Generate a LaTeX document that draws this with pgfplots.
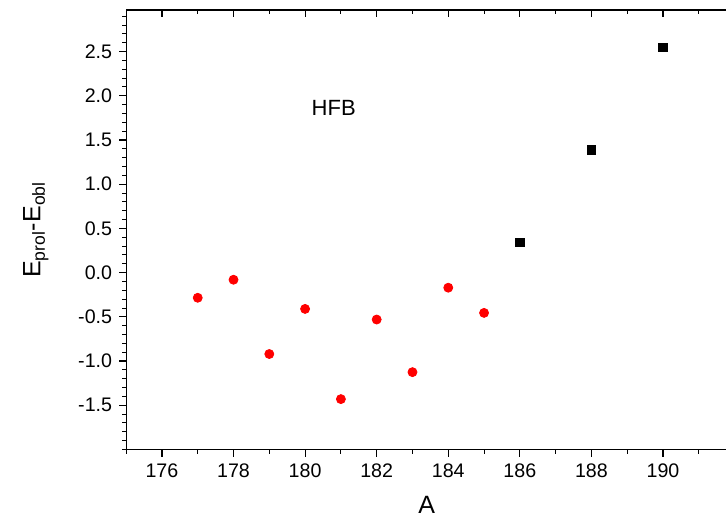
\documentclass[border=0pt]{standalone}
\usepackage{fontspec}
\setmainfont{Liberation Sans}
\usepackage{pgfplots}
\pgfplotsset{compat=1.18}
\begin{document}
\begin{tikzpicture}
\pgfplotsset{
  common/.style={
    scale only axis,
    width=300.3pt, height=219.5pt,
    xmin=175, xmax=191.8, ymin=-2.0, ymax=2.97,
    axis line style={line width=0.6pt},
    /pgf/number format/assume math mode=true,
    major tick length=3.5pt, minor tick length=2pt,
    every tick/.style={line width=0.6pt, black},
    every minor tick/.style={line width=0.5pt, black},
  }
}
\begin{axis}[common,
  tick align=outside,
  xtick pos=bottom, ytick pos=left,
  xtick={176,178,...,190},
  minor xtick={175,177,...,191},
  ytick={-1.5,-1.0,-0.5,0.0,0.5,1.0,1.5,2.0,2.5},
  minor ytick={-2.0,-1.9,-1.8,-1.7,-1.6,-1.4,-1.3,-1.2,-1.1,-0.9,-0.8,-0.7,-0.6,-0.4,-0.3,-0.2,-0.1,0.1,0.2,0.3,0.4,0.6,0.7,0.8,0.9,1.1,1.2,1.3,1.4,1.6,1.7,1.8,1.9,2.1,2.2,2.3,2.4,2.6,2.7,2.8,2.9},
  yticklabel style={/pgf/number format/.cd, fixed, fixed zerofill, precision=1},
  xticklabel style={/pgf/number format/.cd, 1000 sep={}},
  tick label style={font=\fontsize{9.8pt}{11pt}\selectfont},
  xlabel={A},
  ylabel={E\textsubscript{prol}-E\textsubscript{obl}},
  label style={font=\fontsize{12.5pt}{14pt}\selectfont},
  xlabel style={yshift=-2.3pt},
  ylabel style={yshift=8pt},
]
\addplot[only marks, mark=*, mark size=2.25pt, color=red] coordinates {
  (177,-0.284) (178,-0.08) (179,-0.92) (180,-0.41) (181,-1.43)
  (182,-0.53) (183,-1.125) (184,-0.17) (185,-0.455)
};
\addplot[only marks, mark=square*, mark size=2.1pt, color=black] coordinates {
  (186,0.34) (188,1.39) (190,2.545)
};
\node[font=\fontsize{11pt}{13pt}\selectfont] at (axis cs:180.8,1.86) {HFB};
\coordinate (ll) at (axis cs:175,-2.0);
\coordinate (ur) at (axis cs:191.76,2.97);
\end{axis}
\begin{axis}[common,
  tick align=inside,
  xtick pos=top, ytick=\empty,
  xtick={176,178,...,190},
  minor xtick={175,177,...,191},
  xticklabels={},
]
\end{axis}
\pgfresetboundingbox
\path[use as bounding box] ([xshift=-63pt,yshift=-33.5pt]ll) rectangle ([yshift=5pt]ur);
\end{tikzpicture}
\end{document}
